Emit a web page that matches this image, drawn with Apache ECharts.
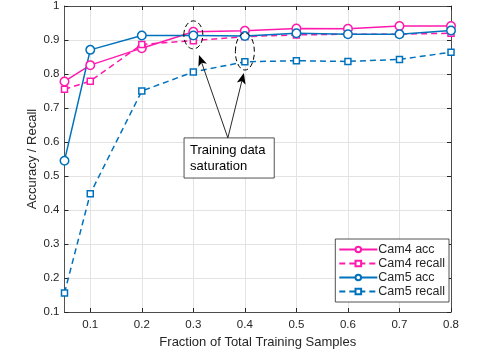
<!DOCTYPE html>
<html><head><meta charset="utf-8">
<script src="https://cdn.jsdelivr.net/npm/echarts@6/dist/echarts.min.js"></script>
<style>html,body{margin:0;padding:0;background:#fff}#c{width:498px;height:353px}</style>
</head><body><div id="c"></div>
<script>
const fractions = [0.05, 0.1, 0.2, 0.3, 0.4, 0.5, 0.6, 0.7, 0.8];
const cam4Acc = [0.778, 0.826, 0.876, 0.924, 0.927, 0.934, 0.933, 0.941, 0.941];
const cam4Recall = [0.755, 0.779, 0.887, 0.898, 0.910, 0.915, 0.917, 0.917, 0.920];
const cam5Acc = [0.545, 0.871, 0.913, 0.913, 0.912, 0.920, 0.917, 0.917, 0.928];
const cam5Recall = [0.156, 0.448, 0.750, 0.806, 0.836, 0.839, 0.837, 0.843, 0.864];
const xTicks = [0.1, 0.2, 0.3, 0.4, 0.5, 0.6, 0.7, 0.8];
const seriesNames = ['Cam4 acc', 'Cam4 recall', 'Cam5 acc', 'Cam5 recall'];
const annotationText = 'Training data\nsaturation';

const PINK = '#ff1aad', BLUE = '#0072bd', AX = '#262626', FONT = 'Liberation Sans';
const pairs = v => fractions.map((x, i) => [x, v[i]]);
function mk(name, data, color, dashed, symbol, size) {
  return {
    name, type: 'line', data: pairs(data), symbol, symbolSize: size, showSymbol: true,
    lineStyle: { color, width: 1.5, type: dashed ? [6, 4] : 'solid' },
    itemStyle: { color: '#fff', borderColor: color, borderWidth: 1.5 },
    emphasis: { disabled: true }, animation: false
  };
}
const xCommon = { type: 'value', min: 0.05, max: 0.8 };
const chart = echarts.init(document.getElementById('c'), null, { renderer: 'canvas' });
chart.setOption({
  animation: false,
  textStyle: { fontFamily: FONT },
  grid: { left: 64.5, top: 6, right: 47, bottom: 41, containLabel: false, outerBoundsMode: 'none' },
  xAxis: [{
    ...xCommon, position: 'bottom',
    name: 'Fraction of Total Training Samples', nameLocation: 'middle', nameGap: 23.5, nameMoveOverlap: false,
    nameTextStyle: { color: AX, fontSize: 13, fontFamily: FONT },
    axisLine: { show: true, lineStyle: { color: AX, width: 0.8 } },
    axisTick: { show: true, inside: true, length: 4, lineStyle: { color: AX }, customValues: xTicks },
    axisLabel: { color: AX, fontSize: 11.5, margin: 7, customValues: xTicks, formatter: v => String(v) },
    splitLine: { show: true, lineStyle: { color: '#e3e3e3', width: 1 } }
  }, {
    ...xCommon, position: 'top',
    axisLine: { show: true, onZero: false, lineStyle: { color: AX, width: 0.8 } },
    axisTick: { show: true, inside: true, length: 4, lineStyle: { color: AX }, customValues: xTicks },
    axisLabel: { show: false }, splitLine: { show: false }
  }],
  yAxis: [{
    type: 'value', min: 0.1, max: 1, interval: 0.1, position: 'left',
    name: 'Accuracy / Recall', nameLocation: 'middle', nameGap: 26, nameMoveOverlap: false,
    nameTextStyle: { color: AX, fontSize: 13, fontFamily: FONT },
    axisLine: { show: true, onZero: false, lineStyle: { color: AX, width: 0.8 } },
    axisTick: { show: true, inside: true, length: 4, lineStyle: { color: AX } },
    axisLabel: { color: AX, fontSize: 11.5, margin: 5, formatter: v => String(+v.toFixed(2)) },
    splitLine: { show: true, lineStyle: { color: '#e3e3e3', width: 1 } }
  }, {
    type: 'value', min: 0.1, max: 1, interval: 0.1, position: 'right',
    axisLine: { show: true, onZero: false, lineStyle: { color: AX, width: 0.8 } },
    axisTick: { show: true, inside: true, length: 4, lineStyle: { color: AX } },
    axisLabel: { show: false }, splitLine: { show: false }
  }],
  legend: {
    orient: 'vertical', right: 49, bottom: 51, itemGap: 1, itemWidth: 38, itemHeight: 7,
    padding: [4, 4, 4, 3], borderColor: AX, borderWidth: 0.8, backgroundColor: '#fff',
    textStyle: { color: AX, fontSize: 12.5, fontFamily: FONT, padding: [0, 0, 0, -4] },
    data: seriesNames
  },
  series: [
    mk(seriesNames[0], cam4Acc, PINK, false, 'circle', 8.5),
    mk(seriesNames[1], cam4Recall, PINK, true, 'rect', 6),
    mk(seriesNames[2], cam5Acc, BLUE, false, 'circle', 8.5),
    mk(seriesNames[3], cam5Recall, BLUE, true, 'rect', 6)
  ]
});

// annotation anchored in data coordinates
const P = (x, y) => chart.convertToPixel({ xAxisIndex: 0, yAxisIndex: 0 }, [x, y]);
const e1 = P(0.3, 0.915), e2 = P(0.4, 0.866);
const tail = P(0.367, 0.612);
const h1 = P(0.311, 0.856), h2 = P(0.398, 0.803);
const boxTL = P(0.282, 0.612), boxBR = P(0.457, 0.494);
function arrow(from, to) {
  const dx = to[0] - from[0], dy = to[1] - from[1], L = Math.hypot(dx, dy);
  const ux = dx / L, uy = dy / L, px = -uy, py = ux;
  const len = 11, w = 4.5;
  const b = [to[0] - ux * len, to[1] - uy * len];
  const n = [to[0] - ux * len * 0.75, to[1] - uy * len * 0.75];
  return [
    { type: 'line', shape: { x1: from[0], y1: from[1], x2: n[0], y2: n[1] }, style: { stroke: '#111', lineWidth: 0.9 }, z: 100 },
    { type: 'polygon', shape: { points: [to, [b[0] + px * w, b[1] + py * w], n, [b[0] - px * w, b[1] - py * w]] }, style: { fill: '#000' }, z: 100 }
  ];
}
chart.setOption({
  graphic: [
    { type: 'ellipse', shape: { cx: e1[0], cy: e1[1], rx: 9.5, ry: 14 }, style: { fill: 'none', stroke: '#000', lineWidth: 1, lineDash: [5, 3] }, z: 100 },
    { type: 'ellipse', shape: { cx: e2[0], cy: e2[1], rx: 9.5, ry: 18.5 }, style: { fill: 'none', stroke: '#000', lineWidth: 1, lineDash: [5, 3] }, z: 100 },
    ...arrow(tail, h1), ...arrow(tail, h2),
    { type: 'rect', shape: { x: boxTL[0], y: boxTL[1], width: boxBR[0] - boxTL[0], height: boxBR[1] - boxTL[1] }, style: { fill: '#fff', stroke: AX, lineWidth: 0.8 }, z: 100 },
    { type: 'text', x: boxTL[0] + 6, y: boxTL[1] + 5, style: { text: annotationText, fill: '#000', font: '13px "Liberation Sans"', lineHeight: 16 }, z: 101 }
  ]
});
</script></body></html>
